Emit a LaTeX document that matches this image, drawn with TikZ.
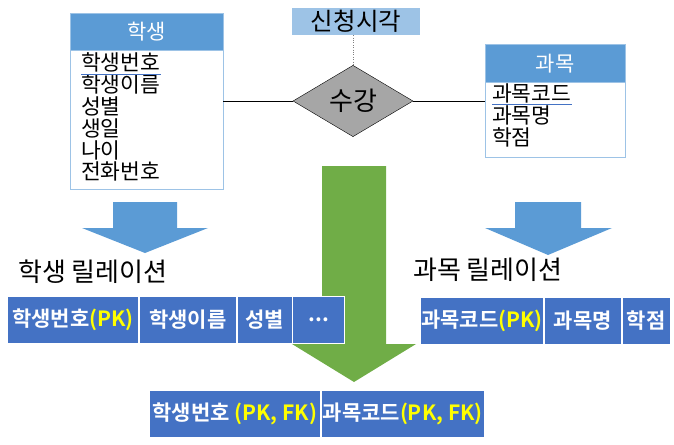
\documentclass[tikz,border=0pt]{standalone}
\usepackage{fontspec}
\usepackage{tikz}
\usetikzlibrary{positioning,shapes.geometric}
\newfontfamily\kr{Noto Sans CJK KR}[BoldFont={Noto Sans CJK KR Bold}]
\definecolor{erhead}{HTML}{5B9BD5}
\definecolor{erline}{HTML}{9DC3E6}
\definecolor{erattr}{HTML}{9DC3E6}
\definecolor{ergray}{HTML}{A6A6A6}
\definecolor{tbblue}{HTML}{4472C4}
\definecolor{tbgreen}{HTML}{70AD47}
\definecolor{pkyel}{HTML}{FFFF00}
\newcommand{\pk}[1]{\textcolor{pkyel}{#1}}

\begin{document}
\begin{tikzpicture}[x=1pt,y=-1pt,
  every node/.style={font=\kr\fontsize{21.5}{23}\selectfont,inner sep=0pt},
  ehead/.style={fill=erhead,draw=erline,text=white,anchor=north west,font=\kr\fontsize{21}{23}\selectfont},
  ebody/.style={fill=white,draw=erline},
  attr/.style={anchor=west},
  key/.style={draw=tbblue,line width=0.8pt},
  rel/.style={draw=black,line width=1pt},
  cell/.style={fill=tbblue,draw=white,line width=0.8pt,text=white,minimum height=47,
    font=\kr\bfseries\fontsize{21}{23}\selectfont},
  caption/.style={anchor=west,font=\kr\fontsize{26}{28}\selectfont},
  bluearrow/.style={fill=erhead},
  greenarrow/.style={fill=tbgreen}]
\useasboundingbox (0,0) rectangle (674,444);

% entities
\node[ehead,minimum width=153,minimum height=37] (sh) at (70,13) {학생};
\node[ebody,minimum width=153,minimum height=139,below=0pt of sh] (sb) {};
\foreach \t [count=\i] in {학생번호,학생이름,성별,생일,나이,전화번호}
  \node[attr] (sa\i) at (81,{41+21.8*\i}) {\t};
\draw[key] ([yshift=-1.5pt]sa1.south west) -- ([yshift=-1.5pt]sa1.south east);

\node[ehead,minimum width=140,minimum height=38] (ch) at (485,44) {과목};
\node[ebody,minimum width=140,minimum height=75,below=0pt of ch] (cb) {};
\foreach \t [count=\i] in {과목코드,과목명,학점}
  \node[attr] (ca\i) at (492,{71+22*\i}) {\t};
\draw[key] ([yshift=-1.5pt]ca1.south west) -- ([yshift=-1.5pt]ca1.south east);

% relationship
\node[diamond,draw,fill=ergray,minimum width=120,minimum height=63,
  font=\kr\fontsize{26}{28}\selectfont] (sg) at (353,101) {수강};
\node[fill=erattr,minimum width=128,minimum height=27,
  font=\kr\fontsize{24.5}{26}\selectfont] (st) at (356,21.5) {신청시각};
\draw[dotted,gray] (st.south -| sg.north) -- (sg.north);
\draw[rel] (sg.west) -- (sg.west -| sb.east);
\draw[rel] (sg.east) -- (sg.east -| cb.west);

% arrows
\fill[bluearrow] (113,202) -- (177,202) -- (177,228) -- (208,228) -- (145,253)
  -- (82,228) -- (113,228) -- cycle;
\fill[bluearrow] (515,202) -- (581,202) -- (581,228) -- (612,228) -- (548,255)
  -- (485,228) -- (515,228) -- cycle;
\fill[greenarrow] (322,166) -- (386,166) -- (386,344) -- (416,344) -- (354,382)
  -- (292,344) -- (322,344) -- cycle;

% relations
\node[caption] (sr) at (18,272) {학생 릴레이션};
\node[caption] (cr) at (413,270) {과목 릴레이션};

\node[cell,minimum width=131,anchor=north west] (s1) at (7,296) {학생번호\pk{(PK)}};
\node[cell,minimum width=97,right=0pt of s1] (s2) {학생이름};
\node[cell,minimum width=55,right=0pt of s2] (s3) {성별};
\node[cell,minimum width=52,right=0pt of s3] (s4) {...};

\node[cell,minimum width=123,anchor=north west] (c1) at (420,297) {과목코드\pk{(PK)}};
\node[cell,minimum width=77,right=0pt of c1] (c2) {과목명};
\node[cell,minimum width=48,right=0pt of c2] (c3) {학점};

\node[cell,minimum width=171,anchor=north west] (e1) at (149,390) {학생번호 \pk{(PK, FK)}};
\node[cell,minimum width=163,right=0pt of e1] (e2) {과목코드\pk{(PK, FK)}};
\end{tikzpicture}
\end{document}
